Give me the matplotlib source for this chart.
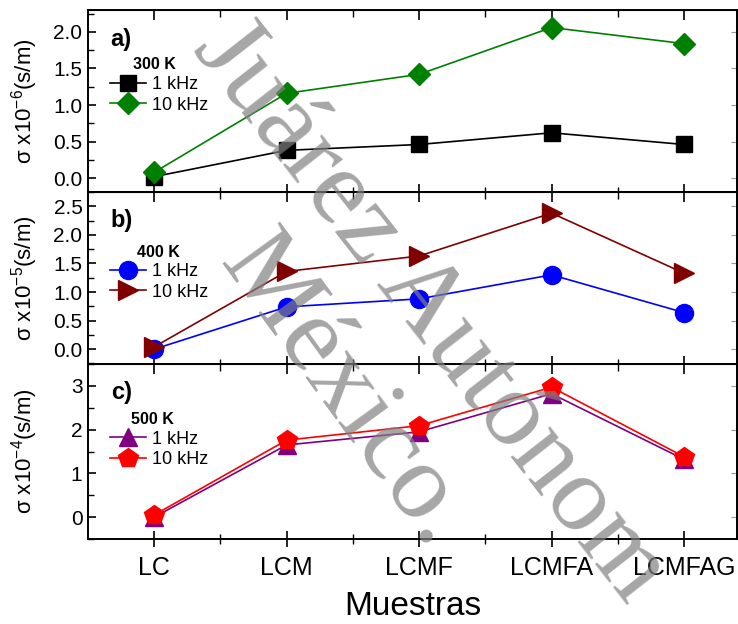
import numpy as np
import matplotlib
matplotlib.use("Agg")
import matplotlib.pyplot as plt
from matplotlib.ticker import MultipleLocator, FormatStrFormatter

plt.rcParams["font.family"] = ["Liberation Sans", "DejaVu Sans"]
plt.rcParams["mathtext.fontset"] = "custom"
plt.rcParams["mathtext.rm"] = "Liberation Sans"
plt.rcParams["mathtext.it"] = "Liberation Sans:italic"

# Data
muestras = ["LC", "LCM", "LCMF", "LCMFA", "LCMFAG"]

s300_1k = [0.02, 0.38, 0.46, 0.62, 0.46]
s300_10k = [0.08, 1.16, 1.42, 2.06, 1.84]

s400_1k = [0.0, 0.74, 0.88, 1.30, 0.64]
s400_10k = [0.04, 1.36, 1.63, 2.38, 1.33]

s500_1k = [0.0, 1.65, 1.95, 2.82, 1.32]
s500_10k = [0.05, 1.76, 2.09, 2.97, 1.38]

panels = [
    ("a)", "300 K", -6, (-0.19, 2.3), 0.5,
     [(s300_1k, "black", "s", 11.5), (s300_10k, "#008000", "D", 11)]),
    ("b)", "400 K", -5, (-0.26, 2.75), 0.5,
     [(s400_1k, "#0000ff", "o", 13), (s400_10k, "#800000", ">", 15)]),
    ("c)", "500 K", -4, (-0.5, 3.5), 1.0,
     [(s500_1k, "#800080", "^", 13), (s500_10k, "#ff0000", "p", 15)]),
]

# legend title position and legend centre (axes fraction)
title_pos = [(0.102, 0.698), (0.108, 0.651), (0.100, 0.680)]
leg_y = [0.533, 0.477, 0.511]

W, H = 738, 624
fig = plt.figure(figsize=(W / 100, H / 100), dpi=100)

# panel boundaries in pixels (top, bottom)
bounds = [(10, 192), (192, 364), (364, 539)]
left_px, right_px = 88, 737
x = np.arange(len(muestras))

axes = []
for i, ((lab, temp, exp, ylim, step, series), (top, bot)) in enumerate(zip(panels, bounds)):
    ax = fig.add_axes([left_px / W, 1 - bot / H, (right_px - left_px) / W, (bot - top) / H])
    axes.append(ax)
    for vals, col, mk, ms in series:
        ax.plot(x, vals, color=col, marker=mk, markersize=ms, lw=1.2)
    ax.set_xlim(-0.5, 4.4)
    ax.set_ylim(*ylim)
    ax.yaxis.set_major_locator(MultipleLocator(step))
    ax.yaxis.set_minor_locator(MultipleLocator(step / 2))
    if step < 1:
        ax.yaxis.set_major_formatter(FormatStrFormatter("%.1f"))
    ax.set_xticks(x)
    ax.set_xticks(x[:-1] + 0.5, minor=True)
    ax.tick_params(axis="y", which="major", direction="in", length=6, width=1.2,
                   labelsize=15, pad=4)
    ax.tick_params(axis="y", which="minor", direction="in", length=4, width=1.0)
    ax.tick_params(axis="x", which="major", direction="inout", length=12, width=1.2,
                   labelsize=18, pad=6)
    ax.tick_params(axis="x", which="minor", direction="inout", length=7, width=1.0)
    for s in ax.spines.values():
        s.set_linewidth(1.4)
    # short ticks on right side and top
    sec = ax.secondary_yaxis("right")
    sec.yaxis.set_major_locator(MultipleLocator(step))
    sec.tick_params(direction="in", length=4, width=0.8, labelright=False, color="#999999")
    topx = ax.secondary_xaxis("top")
    topx.set_xticks(x)
    topx.set_xticks(x[:-1] + 0.5, minor=True)
    topx.tick_params(which="major", direction="in", length=7, width=1.2, labeltop=False)
    topx.tick_params(which="minor", direction="in", length=5, width=1.0)

    ax.set_ylabel(r"$\mathrm{\sigma\ x10^{%d}(s/m)}$" % exp, fontsize=16)
    ax.yaxis.set_label_coords(-0.074, 0.5)
    ax.text(0.035, 0.90, lab, transform=ax.transAxes, fontsize=17,
            fontweight="bold", va="top", ha="left")
    ax.text(title_pos[i][0], title_pos[i][1], temp, transform=ax.transAxes,
            fontsize=11.5, fontweight="bold", ha="center", va="center")
    ax.legend(["1 kHz", "10 kHz"], loc="center left", bbox_to_anchor=(0.034, leg_y[i]),
              frameon=False, fontsize=13, handlelength=2.0, labelspacing=0.2,
              handletextpad=0.35, borderpad=0, borderaxespad=0)

for ax in axes[:-1]:
    ax.set_xticklabels([])
axes[-1].set_xticklabels(muestras)
axes[-1].set_xlabel("Muestras", fontsize=24, labelpad=8)

# watermark
fig.text(430 / W, 1 - 312 / H, "Juárez Autónom", fontsize=78, family="Liberation Serif",
         color="#808080", alpha=0.7, rotation=-52, ha="center", va="center",
         rotation_mode="anchor", zorder=10)
fig.text(345 / W, 1 - 392 / H, "México.", fontsize=78, family="Liberation Serif",
         color="#808080", alpha=0.7, rotation=-54, ha="center", va="center",
         rotation_mode="anchor", zorder=10)

fig.savefig("out.png", dpi=100)
